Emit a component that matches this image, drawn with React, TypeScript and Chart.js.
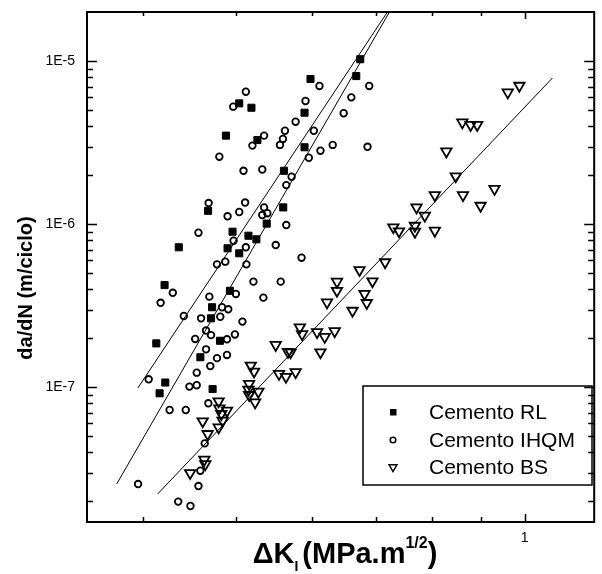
import React, { useEffect, useRef } from 'react';
import { Chart, registerables } from 'chart.js';

Chart.register(...registerables);

// ---------- data ----------
const seriesLabels = ['Cemento RL', 'Cemento IHQM', 'Cemento BS'];

const rlDeltaK = [0.5035, 0.5185, 0.4877, 0.5260, 0.5607, 0.4672, 0.5597, 0.5379, 0.4955, 0.4354, 0.5148, 0.5247, 0.4896, 0.5035, 0.4208, 0.4924, 0.4717, 0.4705, 0.4808, 0.4125, 0.4586, 0.4215, 0.4723, 0.4158, 0.6735, 0.5976, 0.6671, 0.5891, 0.5891];
const rlRate = [5.52e-6, 5.19e-6, 3.50e-6, 3.29e-6, 2.13e-6, 1.21e-6, 1.27e-6, 1.01e-6, 9.01e-7, 7.23e-7, 8.51e-7, 8.09e-7, 7.13e-7, 6.64e-7, 4.24e-7, 3.91e-7, 3.10e-7, 2.65e-7, 1.93e-7, 1.86e-7, 1.53e-7, 1.07e-7, 9.76e-8, 9.19e-8, 1.03e-5, 7.79e-6, 8.12e-6, 4.84e-6, 2.97e-6];

const ihqmDeltaK = [0.5116, 0.4963, 0.5345, 0.5197, 0.5620, 0.5593, 0.5553, 0.4800, 0.5087, 0.5322, 0.5638, 0.4678, 0.5107, 0.5035, 0.4896, 0.5345, 0.5322, 0.5387, 0.5638, 0.4565, 0.4967, 0.5116, 0.5497, 0.4869, 0.4773, 0.5123, 0.5210, 0.5563, 0.5336, 0.4292, 0.4168, 0.4686, 0.4995, 0.4831, 0.4904, 0.4407, 0.4594, 0.4811, 0.5074, 0.4649, 0.4705, 0.4529, 0.4889, 0.4983, 0.4649, 0.4773, 0.4889, 0.4697, 0.4546, 0.4050, 0.4467, 0.4546, 0.4675, 0.4259, 0.4428, 0.4634, 0.4586, 0.3948, 0.4565, 0.4348, 0.4478, 0.6106, 0.6882, 0.5905, 0.6592, 0.6472, 0.5766, 0.6024, 0.6121, 0.6304, 0.5952, 0.6854, 0.5711, 0.5849];
const ihqmRate = [6.51e-6, 5.27e-6, 3.50e-6, 3.04e-6, 3.75e-6, 3.34e-6, 3.07e-6, 2.60e-6, 2.13e-6, 2.17e-6, 1.74e-6, 1.35e-6, 1.36e-6, 1.19e-6, 1.12e-6, 1.27e-6, 1.14e-6, 1.17e-6, 9.90e-7, 8.88e-7, 7.93e-7, 7.23e-7, 7.46e-7, 5.90e-7, 5.68e-7, 5.68e-7, 4.45e-7, 4.45e-7, 3.55e-7, 3.80e-7, 3.30e-7, 3.60e-7, 3.74e-7, 3.10e-7, 3.01e-7, 2.74e-7, 2.65e-7, 2.71e-7, 2.53e-7, 2.23e-7, 2.09e-7, 1.98e-7, 1.97e-7, 2.11e-7, 1.71e-7, 1.51e-7, 1.58e-7, 1.35e-7, 1.23e-7, 1.12e-7, 1.01e-7, 1.03e-7, 7.98e-8, 7.26e-8, 7.26e-8, 4.53e-8, 3.08e-8, 2.55e-8, 2.48e-8, 1.99e-8, 1.87e-8, 7.06e-6, 7.06e-6, 5.71e-6, 6.01e-6, 4.80e-6, 4.26e-6, 3.75e-6, 2.83e-6, 3.07e-6, 2.56e-6, 2.99e-6, 1.96e-6, 6.24e-7];

const bsDeltaK = [0.5497, 0.5661, 0.5177, 0.5218, 0.5540, 0.5634, 0.5156, 0.5148, 0.5156, 0.5272, 0.5231, 0.4792, 0.4800, 0.4889, 0.4823, 0.4838, 0.4792, 0.4612, 0.4667, 0.4630, 0.4641, 0.4475, 0.7866, 0.7293, 0.7393, 0.7682, 0.7682, 0.8058, 0.7150, 0.6724, 0.6936, 0.6369, 0.6369, 0.6805, 0.6842, 0.6218, 0.6612, 0.5825, 0.5857, 0.6071, 0.6184, 0.6334, 0.6121, 0.5697, 0.5766, 0.7711, 0.9874, 0.9602, 0.8608, 0.8782, 0.8922, 0.8285, 0.8473, 0.8058, 0.8622, 0.9301, 0.8995];
const bsRate = [1.82e-7, 1.65e-7, 1.36e-7, 1.25e-7, 1.21e-7, 1.16e-7, 1.05e-7, 9.67e-8, 8.97e-8, 9.40e-8, 8.09e-8, 8.21e-8, 7.43e-8, 7.19e-8, 6.86e-8, 6.24e-8, 5.68e-8, 6.19e-8, 5.17e-8, 3.60e-8, 3.38e-8, 2.98e-8, 1.13e-6, 9.59e-7, 9.06e-7, 9.80e-7, 9.01e-7, 9.14e-7, 5.85e-7, 5.24e-7, 4.47e-7, 4.45e-7, 3.91e-7, 3.74e-7, 3.29e-7, 3.32e-7, 2.95e-7, 2.33e-7, 2.12e-7, 2.18e-7, 2.04e-7, 2.21e-7, 1.64e-7, 1.64e-7, 1.24e-7, 1.27e-6, 7.08e-6, 6.45e-6, 4.22e-6, 4.07e-6, 4.07e-6, 2.80e-6, 1.97e-6, 1.51e-6, 1.51e-6, 1.65e-6, 1.30e-6];

// fitted power-law lines (end points)
const fitRlDeltaK = [0.3946, 0.7190];
const fitRlRate = [9.90e-8, 2.007e-5];
const fitIhqmDeltaK = [0.3750, 0.7225];
const fitIhqmRate = [2.55e-8, 2.007e-5];
const fitBsDeltaK = [0.4138, 1.069];
const fitBsRate = [2.215e-8, 7.90e-6];

// axes
const xAxisRange = [0.3492, 1.182];
const yAxisRange = [1.492e-8, 2.007e-5];
const xTickValues = [0.4, 0.5, 0.6, 0.7, 0.8, 0.9, 1];
const xLabelValues = [1];
const xLabelTexts = ['1'];
const yDecades = [1e-8, 1e-7, 1e-6, 1e-5];
const yMantissas = [1, 2, 3, 4, 5, 6, 7, 8, 9];
const yLabelValues = [1e-7, 1e-6, 1e-5];
const yLabelTexts = ['1E-7', '1E-6', '1E-5'];

const xTitleMain = '\u0394K';
const xTitleSub = 'I';
const xTitleUnit = '(MPa.m';
const xTitleSup = '1/2';
const xTitleEnd = ')';
const yTitle = 'da/dN (m/ciclo)';

const FONT = '"Liberation Sans", Arial, Helvetica, sans-serif';

const toPoints = (xs: number[], ys: number[]) => xs.map((x, i) => ({ x, y: ys[i] }));
const near = (a: number, b: number) => Math.abs(Math.log10(a) - Math.log10(b)) < 1e-6;

const yTickValues: number[] = [];
yDecades.forEach((d) => yMantissas.forEach((m) => {
  const v = m * d;
  if (v >= yAxisRange[0] && v <= yAxisRange[1] * 1.0001) yTickValues.push(v);
}));

const decorPlugin = {
  id: 'decor',
  afterDraw(chart: any) {
    const { ctx, chartArea: a } = chart;
    const xs = chart.scales.x;
    const ys = chart.scales.y;
    ctx.save();
    ctx.strokeStyle = '#000';
    ctx.fillStyle = '#000';

    // frame
    ctx.lineWidth = 2;
    ctx.strokeRect(a.left, a.top, a.right - a.left, a.bottom - a.top);

    // inward ticks on all sides
    ctx.lineWidth = 1.5;
    ctx.beginPath();
    xTickValues.forEach((v) => {
      const px = Math.round(xs.getPixelForValue(v)) + 0.5;
      const major = xLabelValues.some((t) => near(t, v));
      const lb = major ? 8 : 5;
      const lt = major ? 7 : 4;
      ctx.moveTo(px, a.bottom); ctx.lineTo(px, a.bottom - lb);
      ctx.moveTo(px, a.top); ctx.lineTo(px, a.top + lt);
    });
    yTickValues.forEach((v) => {
      const py = Math.round(ys.getPixelForValue(v)) + 0.5;
      if (py < a.top + 2 || py > a.bottom - 2) return;
      const major = yLabelValues.some((t) => near(t, v));
      const len = major ? 10 : 6;
      ctx.moveTo(a.left, py); ctx.lineTo(a.left + len, py);
      ctx.moveTo(a.right, py); ctx.lineTo(a.right - len, py);
    });
    ctx.stroke();

    // y title
    ctx.save();
    ctx.translate(26, 288);
    ctx.rotate(-Math.PI / 2);
    ctx.font = `bold 20px ${FONT}`;
    ctx.textAlign = 'center';
    ctx.textBaseline = 'middle';
    ctx.fillText(yTitle, 0, 0);
    ctx.restore();

    // x title with subscript/superscript
    const bigF = `bold 29px ${FONT}`;
    const subF = `bold 14px ${FONT}`;
    const supF = `bold 16px ${FONT}`;
    ctx.textAlign = 'left';
    ctx.textBaseline = 'alphabetic';
    ctx.font = bigF; const w1 = ctx.measureText(xTitleMain).width;
    ctx.font = subF; const w2 = ctx.measureText(xTitleSub).width;
    const gap = 4;
    ctx.font = bigF; const w3 = ctx.measureText(xTitleUnit).width;
    ctx.font = supF; const w4 = ctx.measureText(xTitleSup).width;
    ctx.font = bigF; const w5 = ctx.measureText(xTitleEnd).width;
    const total = w1 + w2 + gap + w3 + w4 + w5;
    let cx = 345 - total / 2;
    const base = 563;
    ctx.font = bigF; ctx.fillText(xTitleMain, cx, base); cx += w1;
    ctx.font = subF; ctx.fillText(xTitleSub, cx, base + 8); cx += w2 + gap;
    ctx.font = bigF; ctx.fillText(xTitleUnit, cx, base); cx += w3;
    ctx.font = supF; ctx.fillText(xTitleSup, cx, base - 15); cx += w4;
    ctx.font = bigF; ctx.fillText(xTitleEnd, cx, base);

    // legend box
    const lg = { left: 363, top: 386, right: 592, bottom: 485 };
    ctx.lineWidth = 1.5;
    ctx.strokeRect(lg.left, lg.top, lg.right - lg.left, lg.bottom - lg.top);
    const rows = [412, 440, 467];
    const mx = 393;
    ctx.font = `21px ${FONT}`;
    ctx.textBaseline = 'middle';
    ctx.textAlign = 'left';
    chart.data.datasets.slice(0, 3).forEach((ds: any, i: number) => {
      const y = rows[i];
      ctx.lineWidth = 1.5;
      if (i === 0) {
        ctx.fillRect(mx - 3, y - 3, 6.5, 6.5);
      } else if (i === 1) {
        ctx.beginPath(); ctx.arc(mx, y, 2.8, 0, Math.PI * 2); ctx.stroke();
      } else {
        const r = 4.5;
        ctx.beginPath();
        ctx.moveTo(mx, y + r);
        ctx.lineTo(mx - r * 0.866, y - r / 2);
        ctx.lineTo(mx + r * 0.866, y - r / 2);
        ctx.closePath(); ctx.stroke();
      }
      ctx.fillText(ds.label, 429, y + 1);
    });
    ctx.restore();
  },
};

export default function App() {
  const ref = useRef<HTMLCanvasElement | null>(null);
  useEffect(() => {
    if (!ref.current) return;
    const lineStyle = { showLine: true, pointRadius: 0, borderColor: '#000', borderWidth: 1, fill: false, order: 10 };
    const chart = new Chart(ref.current, {
      type: 'scatter',
      data: {
        datasets: [
          { label: seriesLabels[0], data: toPoints(rlDeltaK, rlRate), pointStyle: 'rect', pointRadius: 5, backgroundColor: '#000', borderColor: '#000', borderWidth: 1, order: 1 },
          { label: seriesLabels[1], data: toPoints(ihqmDeltaK, ihqmRate), pointStyle: 'circle', pointRadius: 3.3, backgroundColor: 'rgba(0,0,0,0)', borderColor: '#000', borderWidth: 1.8, order: 2 },
          { label: seriesLabels[2], data: toPoints(bsDeltaK, bsRate), pointStyle: 'triangle', pointRotation: 180, rotation: 180, pointRadius: 6, backgroundColor: 'rgba(0,0,0,0)', borderColor: '#000', borderWidth: 1.8, order: 3 },
          { label: 'fit RL', data: toPoints(fitRlDeltaK, fitRlRate), ...lineStyle },
          { label: 'fit IHQM', data: toPoints(fitIhqmDeltaK, fitIhqmRate), ...lineStyle },
          { label: 'fit BS', data: toPoints(fitBsDeltaK, fitBsRate), ...lineStyle },
        ] as any,
      },
      options: {
        animation: false,
        responsive: false,
        events: [],
        layout: { padding: { left: 0, right: 5, top: 12, bottom: 0 } },
        plugins: { legend: { display: false }, tooltip: { enabled: false } },
        scales: {
          x: {
            type: 'logarithmic',
            min: xAxisRange[0],
            max: xAxisRange[1],
            bounds: 'data',
            grid: { display: false, drawTicks: false },
            border: { display: false },
            afterBuildTicks: (s: any) => { s.ticks = xTickValues.map((v) => ({ value: v })); },
            afterFit: (s: any) => { s.height = 52; s.paddingLeft = 0; s.paddingRight = 0; },
            ticks: {
              autoSkip: false, maxRotation: 0, minRotation: 0, padding: 8, color: '#000',
              font: { family: FONT, size: 14 },
              callback: (v: any) => {
                const i = xLabelValues.findIndex((t) => near(t, Number(v)));
                return i >= 0 ? xLabelTexts[i] : '';
              },
            },
          },
          y: {
            type: 'logarithmic',
            min: yAxisRange[0],
            max: yAxisRange[1],
            bounds: 'data',
            grid: { display: false, drawTicks: false },
            border: { display: false },
            afterBuildTicks: (s: any) => { s.ticks = yTickValues.map((v) => ({ value: v })); },
            afterFit: (s: any) => { s.width = 87; s.paddingTop = 0; s.paddingBottom = 0; },
            ticks: {
              autoSkip: false, padding: 12, color: '#000',
              font: { family: FONT, size: 14 },
              callback: (v: any) => {
                const i = yLabelValues.findIndex((t) => near(t, Number(v)));
                return i >= 0 ? yLabelTexts[i] : '';
              },
            },
          },
        },
      } as any,
      plugins: [decorPlugin],
    });
    return () => chart.destroy();
  }, []);
  return (
    <div style={{ position: 'absolute', left: 0, top: 0, width: 602, height: 574, background: '#fff' }}>
      <canvas ref={ref} width={602} height={574} style={{ display: 'block' }} />
    </div>
  );
}
